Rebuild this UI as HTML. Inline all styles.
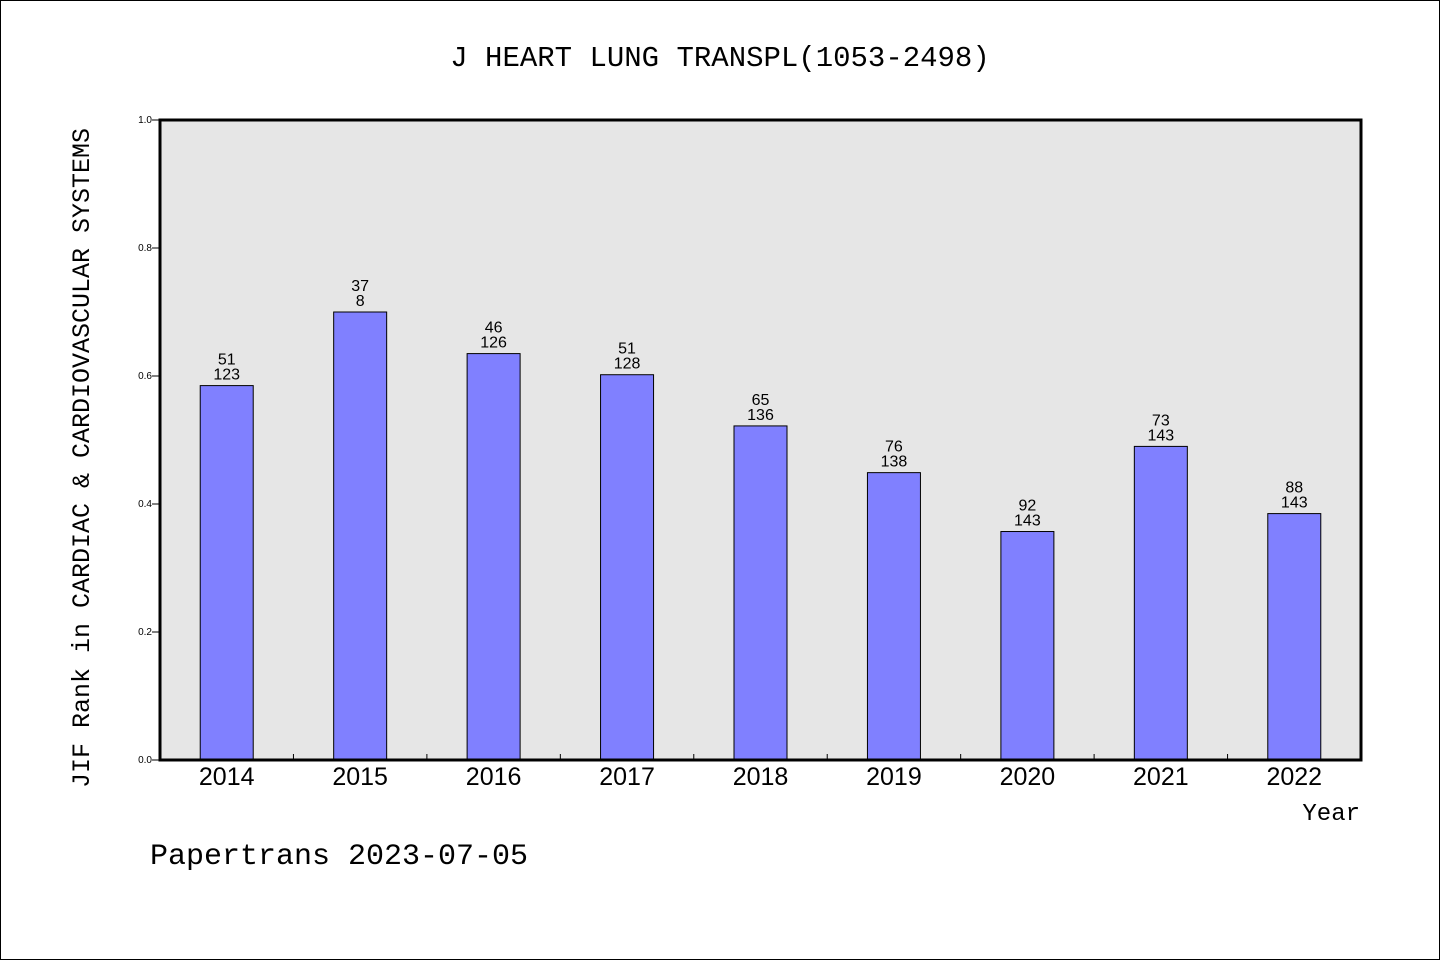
<!DOCTYPE html>
<html><head><meta charset="utf-8"><style>
html,body{margin:0;padding:0;background:#fff}
svg{display:block}
</style></head><body>
<svg id="chart" width="1440" height="960" xmlns="http://www.w3.org/2000/svg">
<rect x="0.5" y="0.5" width="1439" height="959" fill="#fff" stroke="#000"/>
<text x="720" y="66" text-anchor="middle" font-family="Liberation Mono, monospace" font-size="29">J HEART LUNG TRANSPL(1053-2498)</text>
<rect x="160" y="120" width="1201" height="640" fill="#e6e6e6"/>
<g id="bars"></g>
<g id="ticks"></g>
<rect x="160" y="120" width="1201" height="640" fill="none" stroke="#000" stroke-width="3"/>
<text transform="translate(89,458) rotate(-90)" text-anchor="middle" font-family="Liberation Mono, monospace" font-size="25">JIF Rank in CARDIAC &amp; CARDIOVASCULAR SYSTEMS</text>
<text x="1360" y="820" text-anchor="end" font-family="Liberation Mono, monospace" font-size="24">Year</text>
<text x="150" y="864" font-family="Liberation Mono, monospace" font-size="30">Papertrans 2023-07-05</text>
</svg>
<script>
const years=['2014','2015','2016','2017','2018','2019','2020','2021','2022'];
const values=[0.585,0.70,0.635,0.602,0.522,0.449,0.357,0.490,0.385];
const ranks=['51','37','46','51','65','76','92','73','88'];
const totals=['123','8','126','128','136','138','143','143','143'];
const yTicks=[0,0.2,0.4,0.6,0.8,1.0];
const NS='http://www.w3.org/2000/svg';
const L=160,R=1361,T=120,B=760;
const step=(R-L)/years.length;
const xc=i=>L+step*(i+0.5);
const y=v=>B-(v)*(B-T);
function mk(tag,attrs,parent){const e=document.createElementNS(NS,tag);for(const k in attrs)e.setAttribute(k,attrs[k]);parent.appendChild(e);return e;}
const gb=document.getElementById('bars'),gt=document.getElementById('ticks');
years.forEach((yr,i)=>{
  const bw=53;
  const r=mk('rect',{x:xc(i)-bw/2,y:y(values[i]),width:bw,height:B-y(values[i]),fill:'#8080ff',stroke:'#000','stroke-width':1},gb);
  
  
  const t1=mk('text',{x:xc(i),y:y(values[i])-21,'text-anchor':'middle','font-family':'Liberation Sans, sans-serif','font-size':16},gb);
  t1.textContent=ranks[i];
  
  
  const t2=mk('text',{x:xc(i),y:y(values[i])-6,'text-anchor':'middle','font-family':'Liberation Sans, sans-serif','font-size':16},gb);
  t2.textContent=totals[i];
  
  
  const xl=mk('text',{x:xc(i),y:785,'text-anchor':'middle','font-family':'Liberation Sans, sans-serif','font-size':25},gt);
  xl.textContent=yr;
  
  
  if(i>0){
    const tk=mk('line',{x1:L+step*i,x2:L+step*i,y1:B,y2:B-6,stroke:'#000','stroke-width':1},gt);
    
    
  }
});
yTicks.forEach(v=>{
  const tk=mk('line',{x1:L-8,x2:L,y1:y(v),y2:y(v),stroke:'#000','stroke-width':1},gt);
  
  
  const tl=mk('text',{x:L-8,y:y(v)+3,'text-anchor':'end','font-family':'Liberation Sans, sans-serif','font-size':10},gt);
  tl.textContent=v.toFixed(1);
  
  
});
</script>
</body></html>
